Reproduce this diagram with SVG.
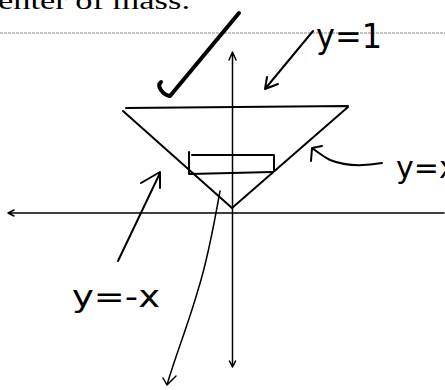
<svg xmlns="http://www.w3.org/2000/svg" width="445" height="390" viewBox="0 0 445 390">
<style>
.ink{fill:none;stroke:#000;stroke-linecap:round;stroke-linejoin:round}
.hw{font-family:"DejaVu Sans","Liberation Sans",sans-serif;fill:#000}
</style>
<rect width="445" height="390" fill="#fff"/>
<text x="-2" y="9" font-family="'Liberation Serif',serif" font-size="26" textLength="192" lengthAdjust="spacingAndGlyphs">enter of mass.</text>
<line x1="0" y1="33" x2="445" y2="33" stroke="#888" stroke-width="1" stroke-dasharray="3,1"/>
<g id="axes">
<path class="ink" stroke-width="1.5" d="M232.5,52 V366 M229,60 L232.5,52 L236,60 M229.5,361 L232.5,367 L235.5,361"/>
<path class="ink" stroke-width="1.5" d="M8,213 H444 M14,210 L8,213 L14,216"/>
</g>
<g id="checkmark">
<path class="ink" stroke-width="4" d="M161,82 C156,86 163,95 170,96 L239,13"/>
</g>
<g id="triangle">
<path class="ink" stroke-width="2" d="M126,108 L348,106 M123,111 L232,208 L348,107"/>
</g>
<g id="rectangle">
<path class="ink" stroke-width="2" d="M189,152 V174 M192,155 H274 V170 M190,174 L272,172"/>
</g>
<g id="label-y1">
<text class="hw" x="316" y="48" font-size="33" textLength="66" lengthAdjust="spacingAndGlyphs">y=1</text>
</g>
<g id="label-yx">
<text class="hw" x="396" y="178" font-size="30">y=x</text>
</g>
<g id="label-ymx">
<text class="hw" x="72" y="307" font-size="30" textLength="88" lengthAdjust="spacingAndGlyphs">y=-x</text>
</g>
<g id="connectors">
<path class="ink" stroke-width="2" d="M313,31 L265,89 M267,77 L265,89 L278,84"/>
<path class="ink" stroke-width="2" d="M382,163 C365,166 345,166 330,160 C322,156 318,152 312,148 M322,146 L312,148 L311,161"/>
<path class="ink" stroke-width="2" d="M118,261 L160,173 M141,183 L160,172 L160,188"/>
<path class="ink" stroke-width="1.5" d="M220,191 C214,225 207,262 198,290 C188,325 174,360 167,385 M163,378 L167,385 L176,376"/>
</g>
</svg>
